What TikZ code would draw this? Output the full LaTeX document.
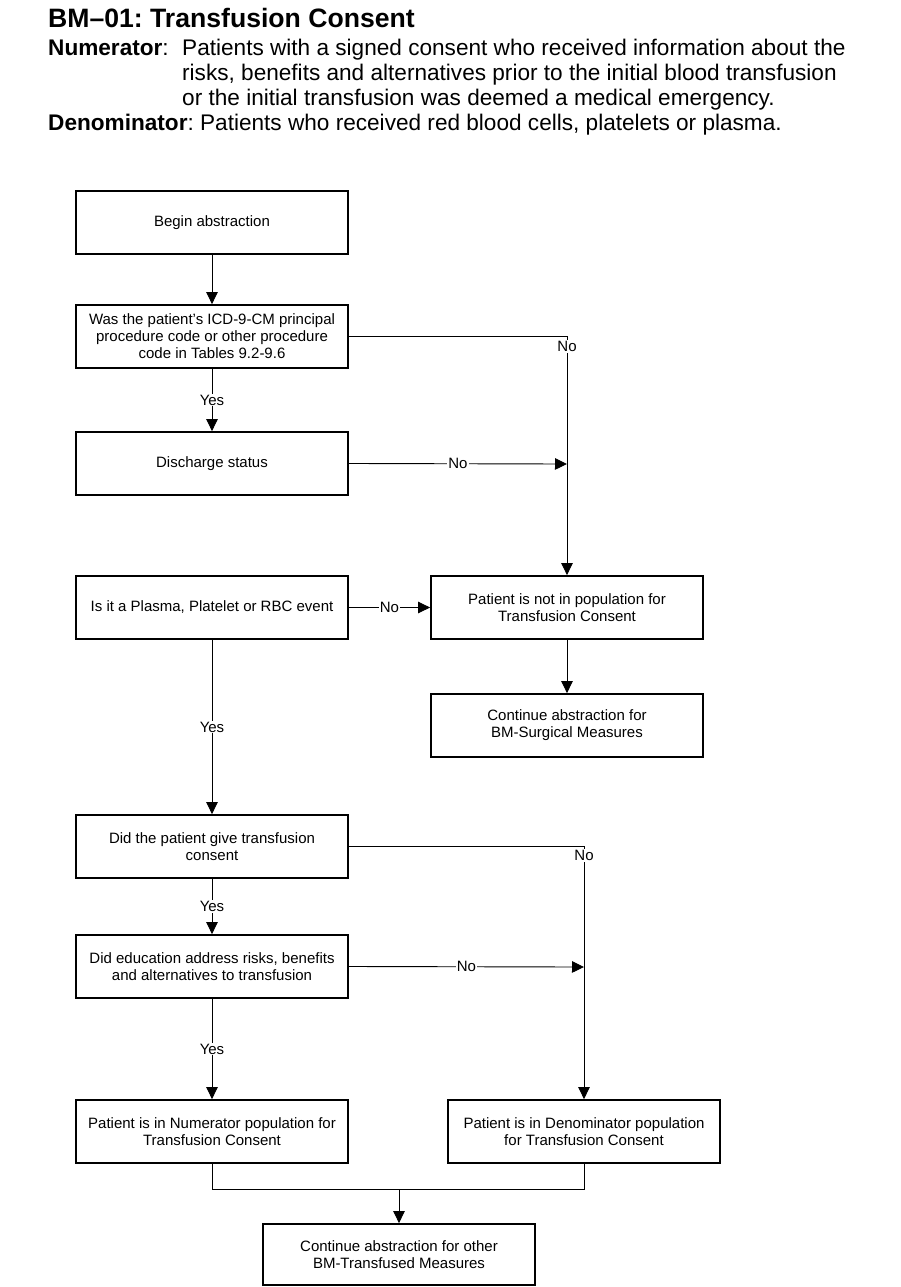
\documentclass[tikz,border=0pt]{standalone}
\usepackage{fontspec}
\setmainfont{Liberation Sans}
\usetikzlibrary{arrows.meta}
\frenchspacing
\begin{document}
\begin{tikzpicture}[x=1pt,y=-1pt,
  box/.style={draw,line width=1.8pt,minimum width=272pt,minimum height=63pt,align=center,font=\fontsize{15}{17}\selectfont,inner sep=2pt},
  conn/.style={line width=0.9pt},
  arr/.style={conn,-{Triangle[length=12pt,width=11.5pt]}},
  lbl/.style={fill=white,inner sep=1pt,font=\fontsize{15}{17}\selectfont},
  hdr/.style={anchor=base west,inner sep=0pt,font=\fontsize{22.6}{24}\selectfont}]
\useasboundingbox (0,0) rectangle (901,1287);
% header
\node[hdr,font=\fontsize{26.6}{28}\bfseries\selectfont] (title) at (48,27.5) {BM–01: Transfusion Consent};
\node[hdr] (num1) at (48,56) {\textbf{Numerator}:};
\node[hdr] (num1b) at (182,56) {Patients with a signed consent who received information about the};
\node[hdr] (num2) at (182,81) {risks, benefits and alternatives prior to the initial blood transfusion};
\node[hdr] (num3) at (182,106) {or the initial transfusion was deemed a medical emergency.};
\node[hdr] (den1) at (48,131) {\textbf{Denominator}: Patients who received red blood cells, platelets or plasma.};
% boxes
\node[box] (begin) at (212,222.5) {Begin abstraction};
\node[box] (icd) at (212,336.5) {Was the patient's ICD-9-CM principal\\procedure code or other procedure\\code in Tables 9.2-9.6};
\node[box] (dis) at (212,463.5) {Discharge status};
\node[box] (pla) at (212,607.5) {Is it a Plasma, Platelet or RBC event};
\node[box] (notin) at (567,607.5) {Patient is not in population for\\Transfusion Consent};
\node[box] (surg) at (567,725.5) {Continue abstraction for\\BM-Surgical Measures};
\node[box] (cons) at (212,846.5) {Did the patient give transfusion\\consent};
\node[box] (edu) at (212,966.5) {Did education address risks, benefits\\and alternatives to transfusion};
\node[box] (numer) at (212,1131.5) {Patient is in Numerator population for\\Transfusion Consent};
\node[box] (denom) at (584,1131.5) {Patient is in Denominator population\\for Transfusion Consent};
\node[box,minimum height=61pt] (other) at (399,1254.5) {Continue abstraction for other\\BM-Transfused Measures};
% coordinates
\coordinate (j1) at (567,464);
\coordinate (j2) at (584,967);
\coordinate (m1) at (212,1189);
\coordinate (m2) at (584,1189);
\coordinate (m3) at (399,1189);
% connectors
\draw[arr] (begin) -- (icd);
\draw[arr] (icd) -- node[lbl,pos=0.5]{Yes} (dis);
\draw[arr] (icd.east) -| node[lbl,pos=0.521]{No} (notin.north);
\draw[arr] (dis.east) -- node[lbl,pos=0.5]{No} (j1);
\draw[arr] (pla) -- node[lbl,pos=0.5]{No} (notin);
\draw[arr] (notin) -- (surg);
\draw[arr] (pla) -- node[lbl,pos=0.5]{Yes} (cons);
\draw[arr] (cons) -- node[lbl,pos=0.5]{Yes} (edu);
\draw[arr] (cons.east) -| node[lbl,pos=0.518]{No} (denom.north);
\draw[arr] (edu.east) -- node[lbl,pos=0.5]{No} (j2);
\draw[arr] (edu) -- node[lbl,pos=0.5]{Yes} (numer);
\draw[conn] (numer.south) -- (m1) -- (m2) -- (denom.south);
\draw[arr] (m3) -- (other);
\end{tikzpicture}
\end{document}
